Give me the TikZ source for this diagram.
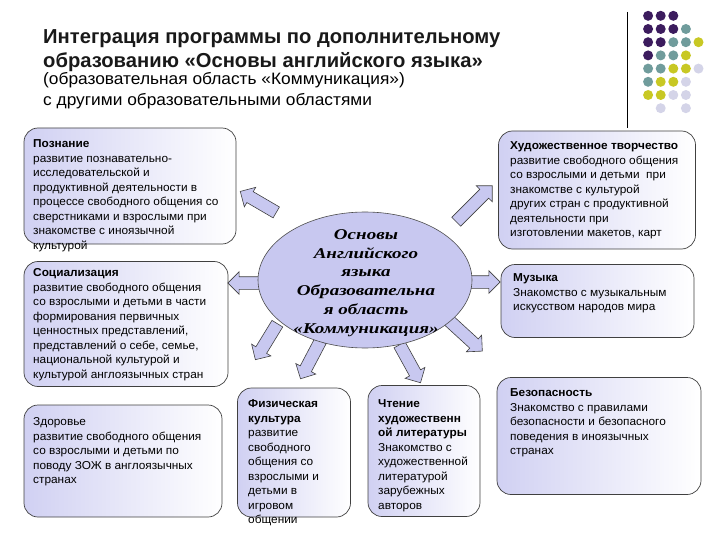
\documentclass[tikz,border=0pt]{standalone}
\usepackage{fontspec}
\setmainfont[FakeStretch=1.03]{Liberation Sans}
\newfontfamily\titlefont{Liberation Sans}
\newfontfamily\subfont[FakeStretch=1.05]{Liberation Sans}
\newfontfamily\hubfont[FakeStretch=1.27]{Liberation Serif}
\usetikzlibrary{shapes.geometric,shapes.arrows,calc}
\definecolor{lav}{RGB}{200,200,240}
\definecolor{dotpurple}{RGB}{60,28,94}
\definecolor{dotteal}{RGB}{112,156,156}
\definecolor{dotyellow}{RGB}{200,200,36}
\definecolor{dotlilac}{RGB}{212,212,232}
\newcommand\blockarr[3]{%
  \path let \p1=($(#2)-(#1)$), \n1={veclen(\x1,\y1)} in
    (#1) -- (#2) node[barrow, midway, sloped, allow upside down, minimum height=\n1] (#3) {};}

\begin{document}
\begin{tikzpicture}[x=1pt, y=-1pt,
  area/.style={draw=black!75, line width=0.7pt, rounded corners=14pt,
    left color=lav!85, middle color=white, right color=white, inner sep=0pt},
  txt/.style={anchor=north west, align=left, inner sep=0pt,
    font=\fontsize{11.5}{14.5}\selectfont},
  barrow/.style={single arrow, draw=black!75, fill=lav, line width=0.6pt,
    inner xsep=0pt, inner ysep=6pt, single arrow head extend=5pt}]
  \useasboundingbox (0,0) rectangle (720,540);

  \node[anchor=north west, align=left, inner sep=0pt, text=black!90,
    font=\titlefont\bfseries\fontsize{20.2}{24}\selectfont] (title) at (43,29)
    {Интеграция программы по дополнительному\\
     образованию «Основы английского языка»};
  \node[anchor=north west, align=left, inner sep=0pt,
    font=\subfont\fontsize{16.5}{21}\selectfont] (subtitle) at (43,72)
    {(образовательная область «Коммуникация»)\\
     с другими образовательными областями};

  \draw[line width=1pt] (627,12) -- (627,128);
  \foreach \cx/\cy/\cc in {1/1/dotpurple, 2/1/dotpurple, 3/1/dotpurple,
    1/2/dotpurple, 2/2/dotpurple, 3/2/dotpurple, 4/2/dotteal,
    1/3/dotpurple, 2/3/dotpurple, 3/3/dotteal, 4/3/dotteal, 5/3/dotyellow,
    1/4/dotpurple, 2/4/dotteal, 3/4/dotteal, 4/4/dotyellow,
    1/5/dotteal, 2/5/dotteal, 3/5/dotyellow, 4/5/dotyellow, 5/5/dotlilac,
    1/6/dotteal, 2/6/dotyellow, 3/6/dotyellow, 4/6/dotlilac,
    1/7/dotyellow, 2/7/dotyellow, 3/7/dotlilac, 4/7/dotlilac,
    2/8/dotlilac, 4/8/dotlilac}
    \fill[\cc] (635.5+12.6*\cx, 2.6+13.2*\cy) circle (5);

  \node[area, minimum width=212, minimum height=116] (pozn) at (130,186) {};
  \node[area, minimum width=204, minimum height=125] (soc) at (126,324) {};
  \node[area, minimum width=198, minimum height=112] (zdor) at (123,461) {};
  \node[area, minimum width=113, minimum height=129] (fiz) at (294,452.5) {};
  \node[area, minimum width=112, minimum height=131] (cht) at (424,451) {};
  \node[area, minimum width=197, minimum height=118] (hud) at (597,190) {};
  \node[area, minimum width=193, minimum height=73] (muz) at (597.5,301) {};
  \node[area, minimum width=204, minimum height=117] (bez) at (599,436) {};

  \node[txt] (pozn-t) at (33,139.5)
    {\textbf{Познание}\\
     развитие познавательно-\\
     исследовательской и\\
     продуктивной деятельности в\\
     процессе свободного общения со\\
     сверстниками и взрослыми при\\
     знакомстве с иноязычной\\
     культурой};
  \node[txt] (soc-t) at (33,268.5)
    {\textbf{Социализация}\\
     развитие свободного общения\\
     со взрослыми и детьми в части\\
     формирования первичных\\
     ценностных представлений,\\
     представлений о себе, семье,\\
     национальной культурой и\\
     культурой англоязычных стран};
  \node[txt] (zdor-t) at (33,417.5)
    {Здоровье\\
     развитие свободного общения\\
     со взрослыми и детьми по\\
     поводу ЗОЖ в англоязычных\\
     странах};
  \node[txt] (fiz-t) at (248,399.5)
    {\textbf{Физическая}\\
     \textbf{культура}\\
     развитие\\
     свободного\\
     общения со\\
     взрослыми и\\
     детьми в\\
     игровом\\
     общении};
  \node[txt] (cht-t) at (378,399.5)
    {\textbf{Чтение}\\
     \textbf{художественн}\\
     \textbf{ой литературы}\\
     Знакомство с\\
     художественной\\
     литературой\\
     зарубежных\\
     авторов};
  \node[txt] (hud-t) at (510,141.5)
    {\textbf{Художественное творчество}\\
     развитие свободного общения\\
     со взрослыми и детьми~ при\\
     знакомстве с культурой\\
     других стран с продуктивной\\
     деятельности при\\
     изготовлении макетов, карт};
  \node[txt] (muz-t) at (513,273.5)
    {\textbf{Музыка}\\
     Знакомство с музыкальным\\
     искусством народов мира};
  \node[txt] (bez-t) at (510,388.5)
    {\textbf{Безопасность}\\
     Знакомство с правилами\\
     безопасности и безопасного\\
     поведения в иноязычных\\
     странах};

  \coordinate (t1) at (279,214);
  \coordinate (p1) at (243,193);
  \coordinate (t2) at (268,283);
  \coordinate (p2) at (231,283);
  \coordinate (t3) at (279,321);
  \coordinate (p3) at (257,357);
  \coordinate (t4) at (322,338);
  \coordinate (p4) at (302,376);
  \coordinate (t5) at (398,342);
  \coordinate (p5) at (419,380);
  \coordinate (t6) at (444,316);
  \coordinate (p6) at (480,349);
  \coordinate (t7) at (463,282);
  \coordinate (p7) at (497,282);
  \coordinate (t8) at (454,224);
  \coordinate (p8) at (490,188);
  \blockarr{t1}{p1}{a1}
  \blockarr{t2}{p2}{a2}
  \blockarr{t3}{p3}{a3}
  \blockarr{t4}{p4}{a4}
  \blockarr{t5}{p5}{a5}
  \blockarr{t6}{p6}{a6}
  \blockarr{t7}{p7}{a7}
  \blockarr{t8}{p8}{a8}

  \node[ellipse, draw=black!70, fill=lav, line width=0.6pt,
    minimum width=214, minimum height=136, inner sep=0pt] (hub) at (365,280) {};
  \node[align=center, inner sep=0pt,
    font=\hubfont\bfseries\itshape\fontsize{15}{18.8}\selectfont] (hub-t) at (366,283)
    {Основы\\
     Английского\\
     языка\\
     Образовательна\\
     я область\\
     «Коммуникация»};
\end{tikzpicture}
\end{document}
